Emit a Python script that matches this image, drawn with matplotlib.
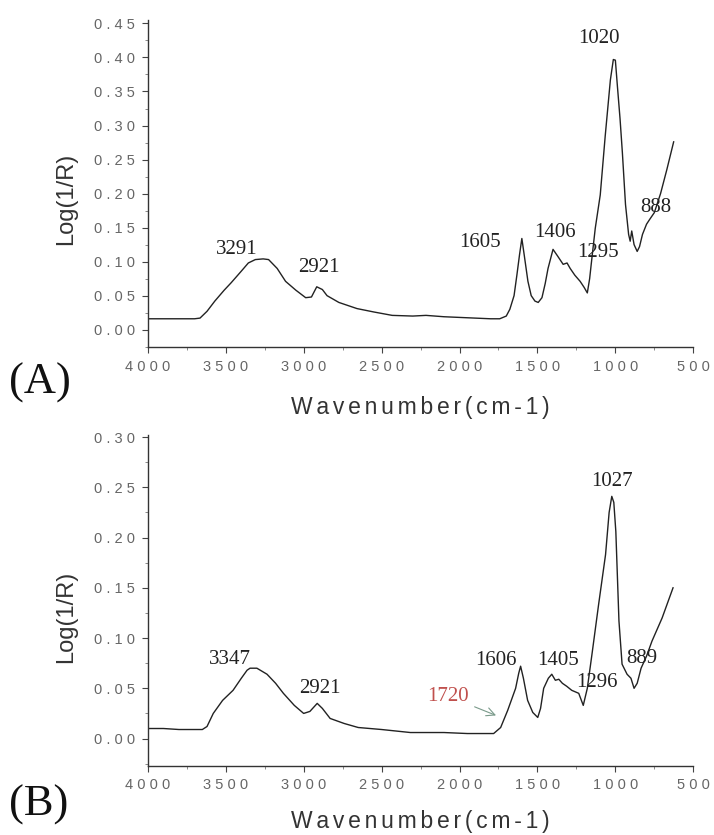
import numpy as np
import matplotlib.pyplot as plt
from matplotlib.ticker import MultipleLocator, FuncFormatter

# spectrum (A): wavenumber (cm-1) and Log(1/R)
wn_a = [4000, 3900, 3800, 3700, 3665, 3620, 3570, 3510, 3465, 3400, 3355, 3310,
        3260, 3225, 3170, 3116, 3050, 2987, 2950, 2916, 2880, 2850, 2774, 2658,
        2550, 2432, 2300, 2215, 2100, 2000, 1900, 1800, 1742, 1700, 1677, 1650,
        1632, 1615, 1600, 1585, 1561, 1540, 1516, 1495, 1471, 1450, 1432, 1400,
        1370, 1335, 1310, 1290, 1260, 1226, 1200, 1180, 1165, 1155, 1129, 1097,
        1065, 1032, 1013, 1000, 987, 970, 955, 935, 915, 905, 895, 880, 860,
        845, 826, 800, 780, 750, 710, 670, 626]
ab_a = [0.016, 0.016, 0.016, 0.016, 0.017, 0.027, 0.042, 0.058, 0.069, 0.086, 0.098, 0.103,
        0.104, 0.103, 0.090, 0.071, 0.058, 0.047, 0.048, 0.063, 0.059, 0.050, 0.040, 0.031,
        0.026, 0.021, 0.020, 0.021, 0.019, 0.018, 0.017, 0.016, 0.016, 0.020, 0.030, 0.050,
        0.080, 0.110, 0.134, 0.110, 0.071, 0.050, 0.042, 0.040, 0.047, 0.068, 0.090, 0.118,
        0.108, 0.096, 0.098, 0.090, 0.080, 0.071, 0.062, 0.054, 0.075, 0.096, 0.149, 0.198,
        0.285, 0.367, 0.397, 0.396, 0.358, 0.310, 0.260, 0.184, 0.140, 0.130, 0.145, 0.125, 0.115,
        0.122, 0.140, 0.155, 0.162, 0.172, 0.200, 0.235, 0.276]

# spectrum (B)
wn_b = [4000, 3900, 3800, 3700, 3650, 3620, 3580, 3520, 3453, 3400, 3363, 3344,
        3300, 3235, 3180, 3130, 3060, 3000, 2960, 2913, 2880, 2830, 2740, 2650,
        2500, 2315, 2100, 1950, 1781, 1736, 1691, 1640, 1620, 1608, 1590, 1563,
        1530, 1498, 1480, 1460, 1430, 1408, 1385, 1363, 1340, 1312, 1280, 1235,
        1206, 1180, 1150, 1107, 1063, 1040, 1023, 1010, 997, 977, 957, 925, 900,
        880, 860, 835, 800, 765, 700, 630]
ab_b = [0.010, 0.010, 0.009, 0.009, 0.009, 0.012, 0.025, 0.038, 0.048, 0.060, 0.068, 0.070,
        0.070, 0.064, 0.055, 0.045, 0.033, 0.025, 0.027, 0.035, 0.030, 0.020, 0.015, 0.011,
        0.009, 0.006, 0.006, 0.005, 0.005, 0.011, 0.028, 0.050, 0.065, 0.072, 0.060, 0.038,
        0.026, 0.021, 0.030, 0.050, 0.060, 0.064, 0.058, 0.059, 0.055, 0.052, 0.048, 0.045,
        0.033, 0.050, 0.084, 0.134, 0.183, 0.225, 0.241, 0.235, 0.206, 0.117, 0.074, 0.064, 0.060,
        0.050, 0.055, 0.070, 0.082, 0.097, 0.120, 0.150]

# peak labels (text, x, y)
peaks_a = [("3291", 3432, 0.118), ("2921", 2900, 0.092), ("1605", 1870, 0.128),
           ("1406", 1390, 0.143), ("1295", 1110, 0.114), ("1020", 1103, 0.428),
           ("888", 742, 0.180)]
peaks_b = [("3347", 3473, 0.079), ("2921", 2894, 0.050), ("1606", 1768, 0.078),
           ("1405", 1370, 0.078), ("1296", 1119, 0.056), ("1027", 1020, 0.256),
           ("889", 830, 0.080)]

serif = ["Times New Roman", "Liberation Serif", "DejaVu Serif"]
sans = ["Liberation Sans", "DejaVu Sans"]
gray = "#666666"
xlab = "\u200a\u200a".join("Wavenumber(cm-1)")


def spaced(fmt):
    return FuncFormatter(lambda v, p: " ".join(fmt % v))


fig = plt.figure(figsize=(7.14, 8.35), dpi=100)
ax_a = fig.add_axes([0.207, 0.584, 0.764, 0.392])
ax_b = fig.add_axes([0.207, 0.083, 0.764, 0.396])


def style(ax, ylo, yhi, ymaj, ylab_y, xlab_y):
    ax.set_xlim(4000, 500)
    ax.set_ylim(ylo, yhi)
    ax.spines["top"].set_visible(False)
    ax.spines["right"].set_visible(False)
    for s in ["left", "bottom"]:
        ax.spines[s].set_color("#333333")
        ax.spines[s].set_linewidth(1.0)
    ax.xaxis.set_major_locator(MultipleLocator(500))
    ax.xaxis.set_minor_locator(MultipleLocator(250))
    ax.yaxis.set_major_locator(MultipleLocator(ymaj))
    ax.yaxis.set_minor_locator(MultipleLocator(ymaj / 2))
    ax.tick_params(which="major", direction="out", length=4, width=0.8, pad=5,
                   colors="#444444", labelcolor=gray, labelsize=10.5)
    ax.tick_params(which="minor", direction="out", length=2, width=0.6, colors="#777777")
    ax.xaxis.set_major_formatter(spaced("%d"))
    ax.yaxis.set_major_formatter(spaced("%.2f"))
    for lab in ax.get_xticklabels() + ax.get_yticklabels():
        lab.set_family(sans)
    ax.set_ylabel("Log(1/R)", fontsize=17, color="#333333", family=sans)
    ax.yaxis.set_label_coords(-0.149, ylab_y)
    ax.set_xlabel(xlab, fontsize=16.5, color="#333333", family=sans)
    ax.xaxis.set_label_coords(0.5, xlab_y)
    ax.xaxis.label.set_va("center")
    ax.yaxis.label.set_va("center")


style(ax_a, -0.026, 0.455, 0.05, 0.453, -0.183)
style(ax_b, -0.027, 0.302, 0.05, 0.45, -0.169)

ax_a.plot(wn_a, ab_a, color="#222222", lw=1.0)
ax_b.plot(wn_b, ab_b, color="#222222", lw=1.0)

for txt, x, y in peaks_a:
    ax_a.text(x, y, txt, ha="center", va="center", fontsize=15, family=serif, color="#222222")
for txt, x, y in peaks_b:
    ax_b.text(x, y, txt, ha="center", va="center", fontsize=15, family=serif, color="#222222")

ax_b.annotate("1720", xy=(1749, 0.022), xytext=(2071, 0.042),
              ha="center", va="center", fontsize=15, family=serif, color="#c0504d",
              arrowprops=dict(arrowstyle="->", color="#7a9a8a", lw=0.8, shrinkA=2))

fig.text(0.012, 0.541, "(A)", fontsize=32, family=serif, color="#111111", va="center")
fig.text(0.012, 0.036, "(B)", fontsize=32, family=serif, color="#111111", va="center")

fig.savefig("out.png", dpi=100)
